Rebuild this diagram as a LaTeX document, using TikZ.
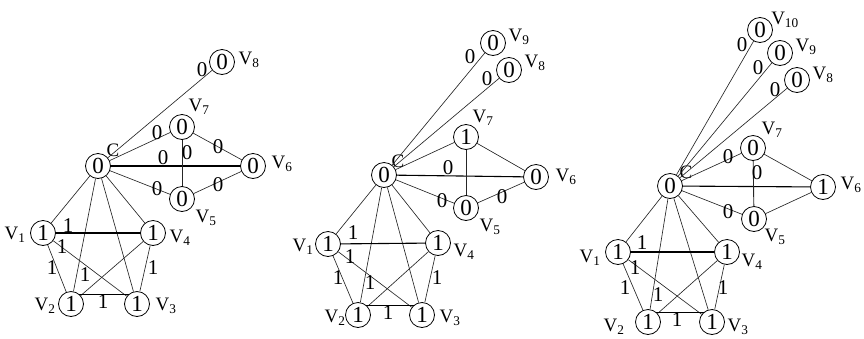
\documentclass[tikz,border=0pt]{standalone}
\usepackage{fontspec}
\setmainfont{Liberation Serif}
\begin{document}
\begin{tikzpicture}[x=1pt,y=-1pt,
  vtx/.style={circle,draw,line width=0.8pt,minimum size=25pt,inner sep=0pt,font=\fontsize{23}{23}\selectfont},
  vlbl/.style={inner sep=0pt,font=\fontsize{19}{19}\selectfont},
  elbl/.style={inner sep=0pt,font=\fontsize{21}{21}\selectfont},
  edg/.style={line width=0.65pt,black!85},
  bedg/.style={line width=1.1pt,black}]
\useasboundingbox (0,0) rectangle (864,338);

% ---------------- Graph 1 ----------------
\node[vtx] (ac) at (98,166) {0};
\node[vtx] (a1) at (43,233) {1};
\node[vtx] (a2) at (71,304) {1};
\node[vtx] (a3) at (137,304) {1};
\node[vtx] (a4) at (153,233) {1};
\node[vtx] (a5) at (182,199) {0};
\node[vtx] (a6) at (253,166) {0};
\node[vtx] (a7) at (182,127) {0};
\node[vtx] (a8) at (222,62) {0};
\node[vlbl] (alc) at (113,150) {C};
\node[vlbl] (al1) at (15,235) {V\textsubscript{1}};
\node[vlbl] (al2) at (45,306) {V\textsubscript{2}};
\node[vlbl] (al3) at (166,306) {V\textsubscript{3}};
\node[vlbl] (al4) at (180,238) {V\textsubscript{4}};
\node[vlbl] (al5) at (206,218) {V\textsubscript{5}};
\node[vlbl] (al6) at (282,164) {V\textsubscript{6}};
\node[vlbl] (al7) at (199,107) {V\textsubscript{7}};
\node[vlbl] (al8) at (249,60) {V\textsubscript{8}};
\draw[edg] (ac) -- (a8);
\draw[edg] (ac) -- (a7);
\draw[bedg] (ac) -- (a6);
\draw[edg] (ac) -- (a5);
\draw[edg,line width=0.9pt] (a7) -- (a5);
\draw[edg] (a7) -- (a6);
\draw[edg] (a5) -- (a6);
\draw[edg] (ac) -- (a1);
\draw[edg] (ac) -- (a2);
\draw[edg] (ac) -- (a3);
\draw[edg] (ac) -- (a4);
\draw[bedg] (a1) -- (a4);
\draw[edg] (a1) -- (a2);
\draw[edg] (a1) -- (a3);
\draw[edg] (a4) -- (a2);
\draw[edg] (a4) -- (a3);
\draw[bedg] (a2.50) -- (a3.130);
\node[elbl] (ae8) at (202,70) {0};
\node[elbl] (ae7) at (157,133) {0};
\node[elbl] (ae6) at (163,158) {0};
\node[elbl] (ae75) at (187,153) {0};
\node[elbl] (ae76) at (218,147) {0};
\node[elbl] (ae5) at (157,189) {0};
\node[elbl] (ae56) at (218,185) {0};
\node[elbl] (ae14) at (68,226) {1};
\node[elbl] (ae13) at (62,247) {1};
\node[elbl] (ae12) at (52,268) {1};
\node[elbl] (ae24) at (85,275) {1};
\node[elbl] (ae43) at (153,268) {1};
\node[elbl] (ae23) at (103,302) {1};

% ---------------- Graph 2 ----------------
\node[vtx] (bc) at (384,175) {0};
\node[vtx] (b1) at (328,244) {1};
\node[vtx] (b2) at (358,315) {1};
\node[vtx] (b3) at (422,315) {1};
\node[vtx] (b4) at (438,243) {1};
\node[vtx] (b5) at (466,208) {0};
\node[vtx] (b6) at (536,177) {0};
\node[vtx] (b7) at (466,137) {1};
\node[vtx] (b8) at (509,70) {0};
\node[vtx] (b9) at (493,43) {0};
\node[vlbl] (blc) at (398,161) {C};
\node[vlbl] (bl1) at (303,247) {V\textsubscript{1}};
\node[vlbl] (bl2) at (335,318) {V\textsubscript{2}};
\node[vlbl] (bl3) at (450,318) {V\textsubscript{3}};
\node[vlbl] (bl4) at (464,252) {V\textsubscript{4}};
\node[vlbl] (bl5) at (490,227) {V\textsubscript{5}};
\node[vlbl] (bl6) at (566,177) {V\textsubscript{6}};
\node[vlbl] (bl7) at (483,118) {V\textsubscript{7}};
\node[vlbl] (bl8) at (535,63) {V\textsubscript{8}};
\node[vlbl] (bl9) at (519,37) {V\textsubscript{9}};
\draw[edg] (bc) -- (b9);
\draw[edg] (bc) -- (b8);
\draw[edg] (bc) -- (b7);
\draw[bedg] (bc) -- (b6);
\draw[edg] (bc) -- (b5);
\draw[edg,line width=0.9pt] (b7) -- (b5);
\draw[edg] (b7) -- (b6);
\draw[edg] (b5) -- (b6);
\draw[edg] (bc) -- (b1);
\draw[edg] (bc) -- (b2);
\draw[edg] (bc) -- (b3);
\draw[edg] (bc) -- (b4);
\draw[bedg] (b1) -- (b4);
\draw[edg] (b1) -- (b2);
\draw[edg] (b1) -- (b3);
\draw[edg] (b4) -- (b2);
\draw[edg] (b4) -- (b3);
\draw[bedg] (b2.50) -- (b3.130);
\node[elbl] (be9) at (470,57) {0};
\node[elbl] (be8) at (487,79) {0};
\node[elbl] (be6) at (448,168) {0};
\node[elbl] (be5) at (442,201) {0};
\node[elbl] (be56) at (502,197) {0};
\node[elbl] (be14) at (353,233) {1};
\node[elbl] (be13) at (350,257) {1};
\node[elbl] (be12) at (338,278) {1};
\node[elbl] (be24) at (370,283) {1};
\node[elbl] (be43) at (437,278) {1};
\node[elbl] (be23) at (388,313) {1};

% ---------------- Graph 3 ----------------
\node[vtx] (dc) at (670,186) {0};
\node[vtx] (d1) at (618,252) {1};
\node[vtx] (d2) at (648,322) {1};
\node[vtx] (d3) at (712,322) {1};
\node[vtx] (d4) at (727,252) {1};
\node[vtx] (d5) at (754,219) {0};
\node[vtx] (d6) at (823,187) {1};
\node[vtx] (d7) at (753,148) {0};
\node[vtx] (d8) at (797,80) {0};
\node[vtx] (d9) at (780,53) {0};
\node[vtx] (d10) at (760,30) {0};
\node[vlbl] (dlc) at (686,172) {C};
\node[vlbl] (dl1) at (590,258) {V\textsubscript{1}};
\node[vlbl] (dl2) at (614,327) {V\textsubscript{2}};
\node[vlbl] (dl3) at (738,327) {V\textsubscript{3}};
\node[vlbl] (dl4) at (752,262) {V\textsubscript{4}};
\node[vlbl] (dl5) at (775,237) {V\textsubscript{5}};
\node[vlbl] (dl6) at (851,185) {V\textsubscript{6}};
\node[vlbl] (dl7) at (772,130) {V\textsubscript{7}};
\node[vlbl] (dl8) at (823,75) {V\textsubscript{8}};
\node[vlbl] (dl9) at (806,47) {V\textsubscript{9}};
\node[vlbl] (dl10) at (785,20) {V\textsubscript{10}};
\draw[edg] (dc) -- (d10);
\draw[edg] (dc) -- (d9);
\draw[edg] (dc) -- (d8);
\draw[edg] (dc) -- (d7);
\draw[bedg] (dc) -- (d6);
\draw[edg] (dc) -- (d5);
\draw[edg,line width=0.9pt] (d7) -- (d5);
\draw[edg] (d7) -- (d6);
\draw[edg] (d5) -- (d6);
\draw[edg] (dc) -- (d1);
\draw[edg] (dc) -- (d2);
\draw[edg] (dc) -- (d3);
\draw[edg] (dc) -- (d4);
\draw[bedg] (d1) -- (d4);
\draw[edg] (d1) -- (d2);
\draw[edg] (d1) -- (d3);
\draw[edg] (d4) -- (d2);
\draw[edg] (d4) -- (d3);
\draw[bedg] (d2.50) -- (d3.130);
\node[elbl] (de10) at (742,45) {0};
\node[elbl] (de9) at (758,68) {0};
\node[elbl] (de8) at (775,90) {0};
\node[elbl] (de7) at (728,157) {0};
\node[elbl] (de75) at (757,173) {0};
\node[elbl] (de5) at (728,212) {0};
\node[elbl] (de14) at (642,243) {1};
\node[elbl] (de13) at (635,268) {1};
\node[elbl] (de12) at (625,288) {1};
\node[elbl] (de24) at (658,295) {1};
\node[elbl] (de43) at (723,288) {1};
\node[elbl] (de23) at (677,320) {1};
\end{tikzpicture}
\end{document}
